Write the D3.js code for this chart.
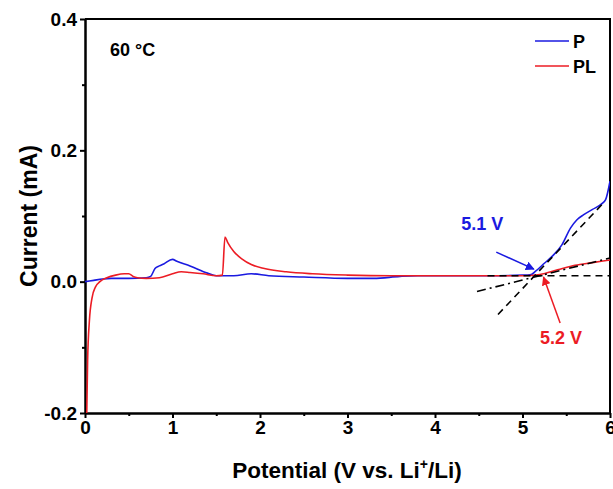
<!DOCTYPE html>
<html>
<head>
<meta charset="utf-8">
<script src="https://cdn.jsdelivr.net/npm/d3@7"></script>
<style>
  body { margin: 0; background: #fff; }
  text { font-family: "Liberation Sans", Arial, sans-serif; font-weight: bold; }
</style>
</head>
<body>
<script>
"use strict";
// Potential (V) and current (mA)
const pV = [0, 0.1, 0.2, 0.3, 0.5, 0.7, 0.75, 0.8, 0.85, 0.9, 1.0, 1.05, 1.2, 1.4, 1.5, 1.7, 1.9, 2.1, 2.5, 3.0, 3.3, 3.6, 3.8, 4.2, 4.6, 5.0, 5.1, 5.15, 5.25, 5.35, 5.45, 5.55, 5.62, 5.7, 5.8, 5.9, 5.95, 6.0];
const pI = [0.0, 0.002, 0.004, 0.005, 0.005, 0.006, 0.008, 0.02, 0.024, 0.027, 0.034, 0.031, 0.024, 0.013, 0.009, 0.009, 0.012, 0.009, 0.007, 0.005, 0.005, 0.008, 0.009, 0.009, 0.009, 0.010, 0.011, 0.016, 0.028, 0.040, 0.056, 0.082, 0.094, 0.102, 0.110, 0.118, 0.125, 0.153];

const plV = [0.02, 0.03, 0.05, 0.08, 0.12, 0.17, 0.25, 0.35, 0.45, 0.5, 0.55, 0.6, 0.7, 0.85, 1.0, 1.1, 1.2, 1.35, 1.5, 1.57, 1.6, 1.63, 1.7, 1.8, 1.9, 2.05, 2.3, 2.6, 3.0, 3.5, 4.0, 4.5, 5.0, 5.2, 5.4, 5.6, 5.8, 6.0];
const plI = [-0.2, -0.12, -0.06, -0.025, -0.008, 0.0, 0.006, 0.01, 0.012, 0.012, 0.008, 0.006, 0.005, 0.006, 0.012, 0.015, 0.014, 0.012, 0.009, 0.01, 0.068, 0.06, 0.046, 0.034, 0.026, 0.02, 0.015, 0.012, 0.01, 0.009, 0.009, 0.009, 0.009, 0.011, 0.018, 0.025, 0.029, 0.033];

// onset construction lines: [[V1, I1], [V2, I2]]
const baseLine = [[4.6, 0.009], [6.0, 0.009]];
const pTangent = [[4.72, -0.05], [5.94, 0.122]];
const plTangent = [[4.48, -0.015], [6.0, 0.036]];

const xTicks = [0, 1, 2, 3, 4, 5, 6];
const yTicks = [-0.2, 0.0, 0.2, 0.4];

const blue = "#1a1ae0";
const red = "#ec1c24";

const W = 613, H = 489;
const m = { left: 85, right: 3, top: 19, bottom: 76 };

const svg = d3.select("body").append("svg")
    .attr("width", W)
    .attr("height", H);

const x = d3.scaleLinear().domain([0, 6]).range([m.left, W - m.right]);
const y = d3.scaleLinear().domain([-0.2, 0.4]).range([H - m.bottom, m.top]);

svg.append("defs").append("clipPath").attr("id", "clip")
  .append("rect")
    .attr("x", x(0)).attr("y", y(0.4))
    .attr("width", x(6) - x(0)).attr("height", y(-0.2) - y(0.4));

const fmt = d => d3.format(".1f")(d).replace("\u2212", "-");

// axes with minor ticks
const xAxis = svg.append("g").attr("transform", `translate(0,${y(-0.2)})`)
    .call(d3.axisBottom(x).tickValues(xTicks).tickFormat(d3.format("d")).tickSize(5).tickSizeOuter(0).tickPadding(3));
svg.append("g").attr("transform", `translate(0,${y(-0.2)})`)
    .call(d3.axisBottom(x).tickValues(d3.range(0.5, 6, 1)).tickSize(3).tickSizeOuter(0).tickFormat(""));
const yAxis = svg.append("g").attr("transform", `translate(${x(0)},0)`)
    .call(d3.axisLeft(y).tickValues(yTicks).tickFormat(fmt).tickSize(5).tickSizeOuter(0).tickPadding(3));
svg.append("g").attr("transform", `translate(${x(0)},0)`)
    .call(d3.axisLeft(y).tickValues([-0.1, 0.1, 0.3]).tickSize(3).tickSizeOuter(0).tickFormat(""));

svg.selectAll(".domain").attr("stroke", "#000").attr("stroke-width", 2);
svg.selectAll(".tick line").attr("stroke", "#000").attr("stroke-width", 2);
xAxis.selectAll("text").attr("font-size", 19).attr("fill", "#000");
yAxis.selectAll("text").attr("font-size", 19).attr("fill", "#000");

// top and right frame
svg.append("path")
    .attr("d", `M${x(0)},${y(0.4)}H${x(6)}V${y(-0.2)}`)
    .attr("fill", "none").attr("stroke", "#000").attr("stroke-width", 2);

const line = d3.line().x(d => x(d[0])).y(d => y(d[1])).curve(d3.curveMonotoneX);
const plot = svg.append("g").attr("clip-path", "url(#clip)");

plot.append("path").datum(pV.map((v, i) => [v, pI[i]]))
    .attr("d", line).attr("fill", "none").attr("stroke", blue).attr("stroke-width", 1.6);
plot.append("path").datum(plV.map((v, i) => [v, plI[i]]))
    .attr("d", line).attr("fill", "none").attr("stroke", red).attr("stroke-width", 1.6);

const straight = d3.line().x(d => x(d[0])).y(d => y(d[1]));
plot.append("path").datum(baseLine).attr("d", straight)
    .attr("stroke", "#000").attr("stroke-width", 1.6).attr("stroke-dasharray", "7,5");
plot.append("path").datum(pTangent).attr("d", straight)
    .attr("stroke", "#000").attr("stroke-width", 1.6).attr("stroke-dasharray", "7,5");
plot.append("path").datum(plTangent).attr("d", straight)
    .attr("stroke", "#000").attr("stroke-width", 1.6).attr("stroke-dasharray", "9,4,2,4");

// arrows
const defs = svg.select("defs");
[["arB", blue], ["arR", red]].forEach(([id, c]) => {
  defs.append("marker").attr("id", id)
      .attr("viewBox", "0 0 10 10").attr("refX", 9).attr("refY", 5)
      .attr("markerWidth", 9).attr("markerHeight", 9).attr("orient", "auto")
      .attr("markerUnits", "userSpaceOnUse")
    .append("path").attr("d", "M0,0L10,5L0,10z").attr("fill", c);
});
svg.append("line")
    .attr("x1", x(4.7)).attr("y1", y(0.045)).attr("x2", x(5.13)).attr("y2", y(0.019))
    .attr("stroke", blue).attr("stroke-width", 1.5).attr("marker-end", "url(#arB)");
svg.append("line")
    .attr("x1", x(5.43)).attr("y1", y(-0.063)).attr("x2", x(5.24)).attr("y2", y(0.007))
    .attr("stroke", red).attr("stroke-width", 1.5).attr("marker-end", "url(#arR)");

svg.append("text").attr("x", x(4.3)).attr("y", y(0.079)).attr("font-size", 18)
    .attr("fill", blue).text("5.1 V");
svg.append("text").attr("x", x(5.2)).attr("y", y(-0.095)).attr("font-size", 18)
    .attr("fill", red).text("5.2 V");

svg.append("text").attr("x", 110).attr("y", 56).attr("font-size", 18).text("60 °C");

// legend
const legend = [["P", blue, 41], ["PL", red, 66]];
legend.forEach(([name, c, ly]) => {
  svg.append("line").attr("x1", 535).attr("x2", 569).attr("y1", ly).attr("y2", ly)
      .attr("stroke", c).attr("stroke-width", 1.6);
  svg.append("text").attr("x", 573).attr("y", ly + 7).attr("font-size", 18).text(name);
});

// axis titles
const xt = svg.append("text").attr("x", 347).attr("y", 478).attr("text-anchor", "middle")
    .attr("font-size", 22.5);
xt.append("tspan").text("Potential (V vs. Li");
xt.append("tspan").attr("font-size", 14).attr("dy", -9).text("+");
xt.append("tspan").attr("dy", 9).text("/Li)");

svg.append("text").attr("transform", `translate(37,${y(0.1)}) rotate(-90)`)
    .attr("text-anchor", "middle").attr("font-size", 23).text("Current (mA)");
</script>
</body>
</html>
